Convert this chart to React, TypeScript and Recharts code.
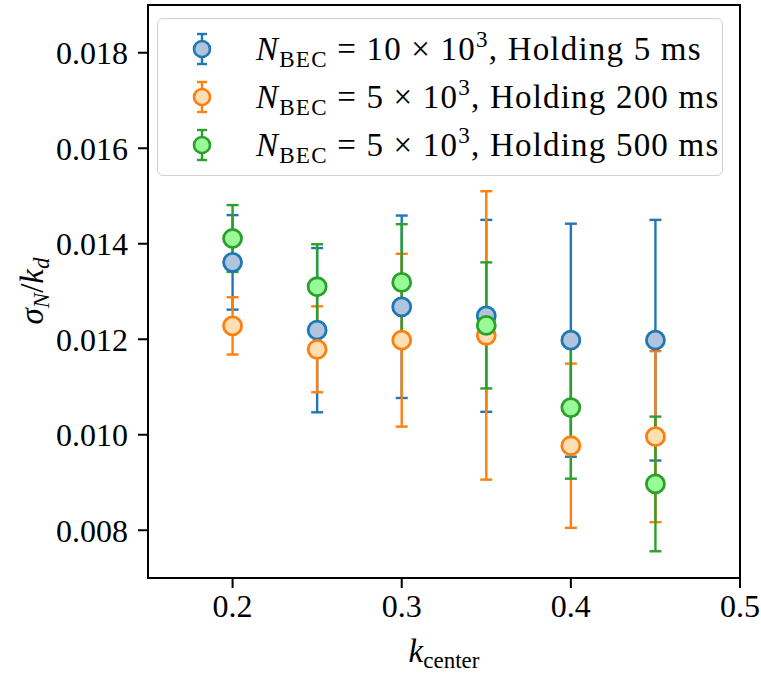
import { ScatterChart, Scatter, XAxis, YAxis, ErrorBar, ReferenceArea, Label } from 'recharts';

const kCenter = [0.2, 0.25, 0.3, 0.35, 0.4, 0.45];

const blueY = [0.01361, 0.01219, 0.01268, 0.01249, 0.01198, 0.01198];
const blueErr = [0.00099, 0.00172, 0.00191, 0.00201, 0.00244, 0.00252];
const orangeY = [0.01228, 0.01179, 0.01198, 0.01208, 0.00977, 0.00996];
const orangeErr = [0.0006, 0.0009, 0.00181, 0.00302, 0.00172, 0.00179];
const greenY = [0.01411, 0.0131, 0.01319, 0.01229, 0.01057, 0.00897];
const greenErr = [0.0007, 0.00089, 0.00122, 0.00132, 0.00149, 0.00141];

const xTicks = [0.2, 0.3, 0.4, 0.5];
const yTicks = [0.008, 0.01, 0.012, 0.014, 0.016, 0.018];

const FONT = '"Liberation Serif", "DejaVu Serif", serif';

const series = [
  { name: 'blue', n: '10', hold: '5', y: blueY, err: blueErr, stroke: '#1f77b4', fill: '#b0c4de' },
  { name: 'orange', n: '5', hold: '200', y: orangeY, err: orangeErr, stroke: '#ff7f0e', fill: '#ffdfb3' },
  { name: 'green', n: '5', hold: '500', y: greenY, err: greenErr, stroke: '#2ca02c', fill: '#98fb98' },
];

const toRows = (ys: number[], errs: number[]) =>
  kCenter.map((x, i) => ({ x, y: ys[i], err: errs[i] }));

const Nothing = () => <g />;

const LegendIcon = ({ stroke, fill }: { stroke: string; fill: string }) => (
  <svg width={24} height={34} style={{ display: 'block' }}>
    <line x1={12} y1={2} x2={12} y2={32} stroke={stroke} strokeWidth={2.4} />
    <line x1={7} y1={2} x2={17} y2={2} stroke={stroke} strokeWidth={2.4} />
    <line x1={7} y1={32} x2={17} y2={32} stroke={stroke} strokeWidth={2.4} />
    <circle cx={12} cy={17} r={8} fill={fill} stroke={stroke} strokeWidth={2.6} />
  </svg>
);

const ChartLegend = () => (
  <div
    style={{
      position: 'absolute',
      left: 157,
      top: 18,
      width: 566,
      boxSizing: 'border-box',
      border: '1.5px solid #d0d0d0',
      borderRadius: 6,
      background: 'rgba(255,255,255,0.8)',
      padding: '6px 0 6px 32px',
      fontFamily: FONT,
      fontSize: 33,
      color: '#000',
    }}
  >
    {series.map((s) => (
      <div key={s.name} style={{ display: 'flex', alignItems: 'center', height: 48 }}>
        <LegendIcon stroke={s.stroke} fill={s.fill} />
        <span style={{ marginLeft: 42, whiteSpace: 'nowrap', lineHeight: '48px', letterSpacing: 1.2 }}>
          <i>N</i>
          <span style={{ fontSize: '0.7em', verticalAlign: '-0.3em' }}>BEC</span>
          {' = '}
          {s.n} × 10<span style={{ fontSize: '0.7em', verticalAlign: '0.55em' }}>3</span>, Holding {s.hold} ms
        </span>
      </div>
    ))}
  </div>
);

const YLabel = ({ viewBox }: any) => {
  const cx = viewBox.x + 35;
  const cy = 291;
  return (
    <text x={cx} y={cy} transform={`rotate(-90, ${cx}, ${cy})`} textAnchor="middle" fontFamily={FONT} fontSize={33} fill="#000" dy={8}>
      <tspan fontStyle="italic">σ</tspan>
      <tspan fontStyle="italic" fontSize={23} dy={6}>N</tspan>
      <tspan dy={-6}>/</tspan>
      <tspan fontStyle="italic">k</tspan>
      <tspan fontStyle="italic" fontSize={23} dy={6}>d</tspan>
    </text>
  );
};

const XLabel = ({ viewBox }: any) => {
  const cx = viewBox.x + viewBox.width / 2;
  return (
    <text x={cx} y={662} textAnchor="middle" fontFamily={FONT} fontSize={33} fill="#000">
      <tspan fontStyle="italic">k</tspan>
      <tspan fontSize={23} dy={6}>center</tspan>
    </text>
  );
};

const tickStyle = { fill: '#000', fontFamily: FONT, fontSize: 32 };

export default function App() {
  return (
    <div style={{ position: 'absolute', left: 0, top: 0, width: 761, height: 677, background: '#fff' }}>
      <ScatterChart width={761} height={677} margin={{ top: 5, right: 21, bottom: 0, left: 0 }}>
        <XAxis
          type="number"
          dataKey="x"
          domain={[0.15, 0.5]}
          ticks={xTicks}
          allowDataOverflow
          height={99}
          tickFormatter={(v: number) => v.toFixed(1)}
          tick={tickStyle}
          tickSize={10}
          tickMargin={6}
          axisLine={{ stroke: '#000', strokeWidth: 2 }}
          tickLine={{ stroke: '#000', strokeWidth: 2 }}
        >
          <Label content={<XLabel />} />
        </XAxis>
        <YAxis
          type="number"
          dataKey="y"
          domain={[0.007, 0.019]}
          ticks={yTicks}
          allowDataOverflow
          width={148}
          tickFormatter={(v: number) => v.toFixed(3)}
          tick={tickStyle}
          tickSize={10}
          tickMargin={10}
          axisLine={{ stroke: '#000', strokeWidth: 2 }}
          tickLine={{ stroke: '#000', strokeWidth: 2 }}
        >
          <Label content={<YLabel />} />
        </YAxis>
        <ReferenceArea x1={0.15} x2={0.5} y1={0.007} y2={0.019} fill="none" stroke="#000" strokeWidth={2} ifOverflow="visible" />
        {series.map((s) => (
          <Scatter
            key={`${s.name}-err`}
            data={toRows(s.y, s.err)}
            shape={<Nothing />}
            legendType="none"
            isAnimationActive={false}
          >
            <ErrorBar dataKey="err" direction="y" width={6} stroke={s.stroke} strokeWidth={2.4} isAnimationActive={false} />
          </Scatter>
        ))}
        {series.map((s) => (
          <Scatter
            key={`${s.name}-pts`}
            data={toRows(s.y, s.err)}
            isAnimationActive={false}
            shape={(p: any) => <circle cx={p.cx} cy={p.cy} r={9} fill={s.fill} stroke={s.stroke} strokeWidth={2.8} />}
          />
        ))}
      </ScatterChart>
      <ChartLegend />
    </div>
  );
}
